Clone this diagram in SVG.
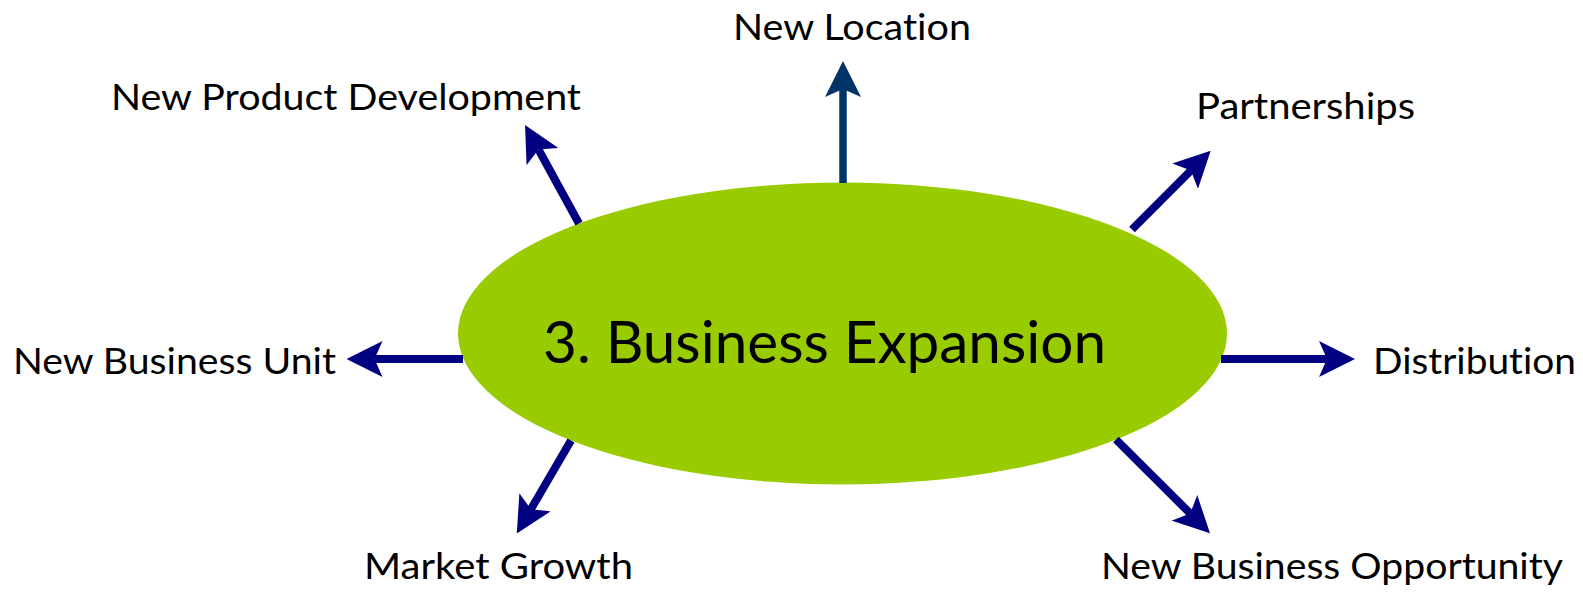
<svg xmlns="http://www.w3.org/2000/svg" width="1583" height="592" viewBox="0 0 1583 592">
  <style>
    .lbl { font-family: Lato, "Open Sans", "Liberation Sans", sans-serif; font-size: 37px; fill: #000000; font-variant-ligatures: none; font-feature-settings: "liga" 0, "clig" 0; }
    .title { font-family: Lato, "Open Sans", "Liberation Sans", sans-serif; font-size: 58px; fill: #000000; font-variant-ligatures: none; font-feature-settings: "liga" 0, "clig" 0; }
    .conn { fill: none; stroke: #000080; stroke-width: 8; stroke-linecap: butt; marker-end: url(#head); }
    .conn.dark { stroke: #003366; stroke-width: 7.5; marker-end: url(#headDark); }
  </style>
  <defs>
    <marker id="head" markerUnits="userSpaceOnUse" viewBox="0 -18 36 36" markerWidth="36" markerHeight="36" refX="8" refY="0" orient="auto">
      <path d="M0,-18 L36,0 L0,18 L8,0 Z" fill="#000080"/>
    </marker>
    <marker id="headDark" markerUnits="userSpaceOnUse" viewBox="0 -18 36 36" markerWidth="36" markerHeight="36" refX="8" refY="0" orient="auto">
      <path d="M0,-18 L36,0 L0,18 L8,0 Z" fill="#003366"/>
    </marker>
  </defs>
  <rect width="1583" height="592" fill="#ffffff"/>

  <g id="center">
    <ellipse cx="842.5" cy="333.5" rx="384.5" ry="151" fill="#99CC00"/>
    <text class="title" x="543" y="363.3" textLength="563" lengthAdjust="spacingAndGlyphs">3. Business Expansion</text>
  </g>

  <g id="connectors">
    <path class="conn dark" d="M843,183 L843,89"/>
    <path class="conn" d="M1221,359 L1327,359"/>
    <path class="conn" d="M463,359 L374.5,359"/>
    <path class="conn" d="M1132,229.5 L1190.9,170.5"/>
    <path class="conn" d="M1116,439.5 L1190.2,513.5"/>
    <path class="conn" d="M571,440.5 L530.9,509.2"/>
    <path class="conn" d="M579,223.5 L538.5,149.5"/>
  </g>

  <g id="new-location"><text class="lbl" x="733" y="39.5" textLength="238" lengthAdjust="spacingAndGlyphs">New Location</text></g>
  <g id="new-product-development"><text class="lbl" x="111" y="109.5" textLength="470" lengthAdjust="spacingAndGlyphs">New Product Development</text></g>
  <g id="partnerships"><text class="lbl" x="1196" y="118.5" textLength="219" lengthAdjust="spacingAndGlyphs">Partnerships</text></g>
  <g id="new-business-unit"><text class="lbl" x="13" y="374" textLength="323" lengthAdjust="spacingAndGlyphs">New Business Unit</text></g>
  <g id="distribution"><text class="lbl" x="1373" y="374" textLength="203" lengthAdjust="spacingAndGlyphs">Distribution</text></g>
  <g id="market-growth"><text class="lbl" x="364" y="579" textLength="269" lengthAdjust="spacingAndGlyphs">Market Growth</text></g>
  <g id="new-business-opportunity"><text class="lbl" x="1101" y="579" textLength="462" lengthAdjust="spacingAndGlyphs">New Business Opportunity</text></g>
</svg>
